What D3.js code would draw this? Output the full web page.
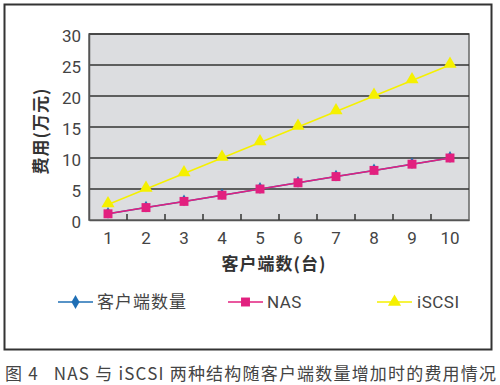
<!DOCTYPE html>
<html><head><meta charset="utf-8">
<script src="https://cdn.jsdelivr.net/npm/d3@7"></script>
<style>
html,body{margin:0;padding:0;background:#fff;}
svg{display:block;}
</style></head>
<body><svg id="c" width="500" height="385"></svg>
<script>
const categories = ["1","2","3","4","5","6","7","8","9","10"];
const clientCount = [1,2,3,4,5,6,7,8,9,10];
const nasCost = [1,2,3,4,5,6,7,8,9,10];
const iscsiCost = [2.5,5,7.5,10,12.5,15,17.5,20,22.5,25];
const yTicks = [0,5,10,15,20,25,30];
const seriesNames = ["客户端数量","NAS","iSCSI"];

const svg = d3.select("#c");
const cjk = "'Noto Sans CJK SC','Noto Sans',sans-serif";
const num = "'Liberation Sans Narrow','Roboto','Liberation Sans',sans-serif";

// outer frame
svg.append("rect").attr("x",4.5).attr("y",4.5).attr("width",487).attr("height",345)
  .attr("fill","#fff").attr("stroke","#333").attr("stroke-width",2);

const L=89, R=469, T=34, B=220;
const x = d3.scaleBand().domain(categories).range([L,R]);
const y = d3.scaleLinear().domain([0,30]).range([B,T]);

svg.append("rect").attr("x",L).attr("y",T).attr("width",R-L).attr("height",B-T)
  .attr("fill","#dcdde0").attr("stroke","#666").attr("stroke-width",1.5);

// gridlines
svg.append("g").selectAll("line").data(yTicks.filter(d=>d>0)).join("line")
  .attr("x1",L).attr("x2",R).attr("y1",d=>y(d)).attr("y2",d=>y(d))
  .attr("stroke","#333").attr("stroke-width",1.5);

// y axis
const ya = svg.append("g").attr("transform",`translate(${L},0)`)
  .call(d3.axisLeft(y).tickValues(yTicks).tickSize(0).tickPadding(8));
ya.select(".domain").attr("stroke","#555").attr("stroke-width",1.5);
ya.selectAll("text").attr("font-family",num).attr("font-size",17).attr("fill","#444").attr("dy","0.45em");

// x axis
const xa = svg.append("g").attr("transform",`translate(0,${B})`)
  .call(d3.axisBottom(x).tickSize(0).tickPadding(12));
xa.select(".domain").attr("stroke","#555").attr("stroke-width",1.5);
xa.selectAll("text").attr("font-family",num).attr("font-size",17).attr("fill","#444");
// inner ticks between categories
svg.append("g").selectAll("line").data(categories.slice(1)).join("line")
  .attr("x1",d=>x(d)).attr("x2",d=>x(d)).attr("y1",B).attr("y2",B-6)
  .attr("stroke","#333").attr("stroke-width",1.5);

// titles
svg.append("text").attr("transform",`translate(47,${(T+B)/2+4}) rotate(-90)`)
  .attr("text-anchor","middle").attr("font-family",cjk).attr("font-weight","bold")
  .attr("font-size",17).attr("fill","#333").attr("letter-spacing",1).text("费用(万元)");
svg.append("text").attr("x",274).attr("y",270).attr("text-anchor","middle")
  .attr("font-family",cjk).attr("font-weight","bold").attr("font-size",17).attr("fill","#333")
  .attr("letter-spacing",1).text("客户端数(台)");

const cx = (d,i)=>x(categories[i])+x.bandwidth()/2;
const colors = ["#1f6fb5","#e2207f","#f5f000"];

function drawLine(vals,color){
  svg.append("path").datum(vals)
    .attr("d",d3.line().x(cx).y(d=>y(d)))
    .attr("fill","none").attr("stroke",color).attr("stroke-width",1.5);
}
const diamond = d3.symbol().type(d3.symbolDiamond).size(40);
const square = d3.symbol().type(d3.symbolSquare).size(80);
const tri = d3.symbol().type(d3.symbolTriangle).size(75);
const legDiamond = d3.symbol().type(d3.symbolDiamond).size(55);

drawLine(clientCount,colors[0]);
svg.append("g").selectAll("path").data(clientCount).join("path")
  .attr("transform",(d,i)=>`translate(${cx(d,i)},${y(d)-1})`).attr("d",diamond).attr("fill",colors[0]);
drawLine(nasCost,colors[1]);
svg.append("g").selectAll("path").data(nasCost).join("path")
  .attr("transform",(d,i)=>`translate(${cx(d,i)},${y(d)})`).attr("d",square).attr("fill",colors[1]);
drawLine(iscsiCost,colors[2]);
svg.append("g").selectAll("path").data(iscsiCost).join("path")
  .attr("transform",(d,i)=>`translate(${cx(d,i)},${y(d)-1})`).attr("d",tri).attr("fill",colors[2]);

// legend
const legX = [58,228,377];
const legSyms = [legDiamond,square,tri];
seriesNames.forEach((n,i)=>{
  const g = svg.append("g").attr("transform",`translate(${legX[i]},302)`);
  g.append("line").attr("x1",0).attr("x2",35).attr("y1",0).attr("y2",0)
    .attr("stroke",colors[i]).attr("stroke-width",1.5);
  g.append("path").attr("transform","translate(17.5,0)").attr("d",legSyms[i]).attr("fill",colors[i]);
  g.append("text").attr("x",i===0?39:(i===1?39:40)).attr("y",6).attr("font-size",17)
    .attr("font-family",i===0?cjk:num).attr("fill","#444")
    .attr("letter-spacing",i===0?1:0.5).text(n);
});

// caption
svg.append("text").attr("x",5).attr("y",380).attr("font-family",cjk).attr("font-size",17)
  .attr("fill","#444").attr("xml:space","preserve").style("white-space","pre")
  .attr("textLength",491).attr("lengthAdjust","spacing")
  .text("图 4   NAS 与 iSCSI 两种结构随客户端数量增加时的费用情况");
</script></body></html>
